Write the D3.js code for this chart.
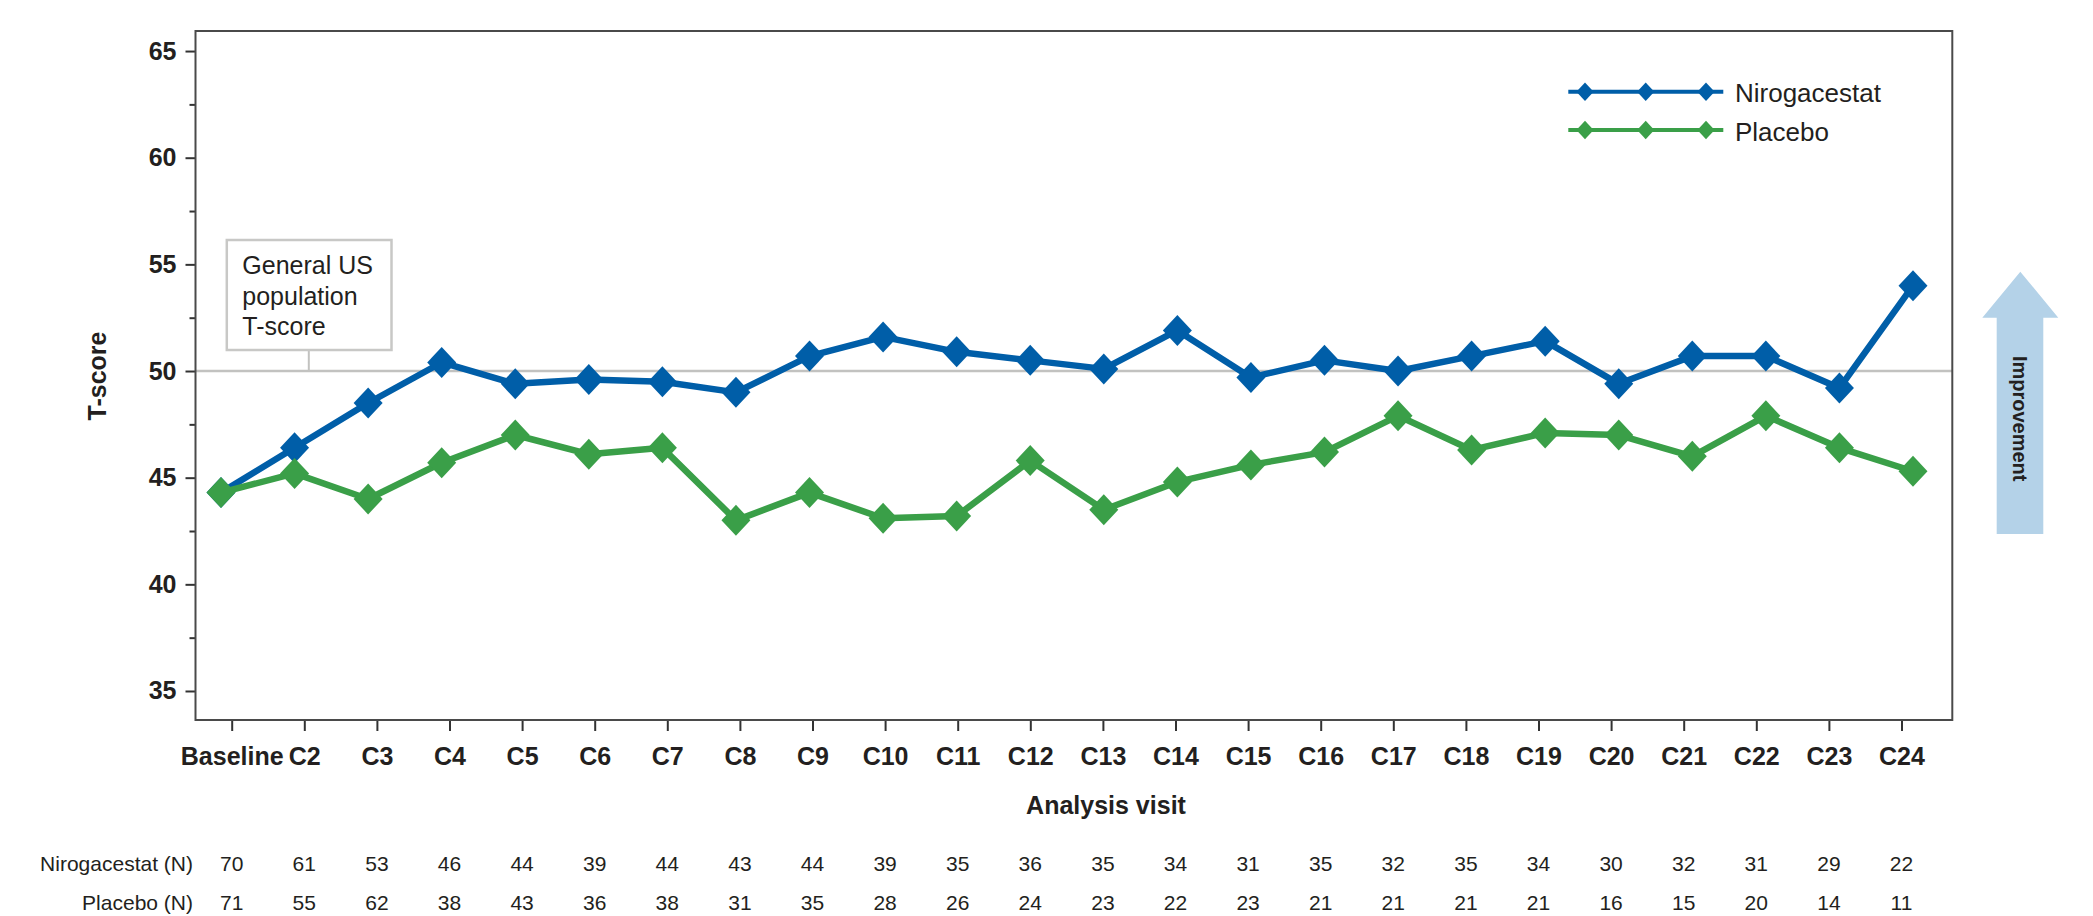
<!DOCTYPE html>
<html lang="en">
  <head>
    <meta charset="UTF-8" />
    <title>T-score by analysis visit</title>
    <script src="https://d3js.org/d3.v7.min.js"></script>
    <style>
      body {
        margin: 0;
        background: #fff;
      }
      svg text {
        font-family: "Liberation Sans", Arial, Helvetica, sans-serif;
        fill: #231f20;
      }
    </style>
  </head>
  <body>
    <div id="chart"></div>
    <script>
      // data
      const visits = ["Baseline", "C2", "C3", "C4", "C5", "C6", "C7", "C8", "C9", "C10", "C11", "C12",
        "C13", "C14", "C15", "C16", "C17", "C18", "C19", "C20", "C21", "C22", "C23", "C24"];
      const nirogacestat = [44.3, 46.4, 48.5, 50.4, 49.4, 49.6, 49.5, 49.0, 50.7, 51.6, 50.9, 50.5,
        50.1, 51.9, 49.7, 50.5, 50.0, 50.7, 51.4, 49.4, 50.7, 50.7, 49.2, 54.0];
      const placebo = [44.3, 45.2, 44.0, 45.7, 47.0, 46.1, 46.4, 43.0, 44.3, 43.1, 43.2, 45.8,
        43.5, 44.8, 45.6, 46.2, 47.9, 46.3, 47.1, 47.0, 46.0, 47.9, 46.4, 45.3];
      const nNirogacestat = [70, 61, 53, 46, 44, 39, 44, 43, 44, 39, 35, 36, 35, 34, 31, 35, 32, 35, 34, 30, 32, 31, 29, 22];
      const nPlacebo = [71, 55, 62, 38, 43, 36, 38, 31, 35, 28, 26, 24, 23, 22, 23, 21, 21, 21, 21, 16, 15, 20, 14, 11];
      const yTicks = [35, 40, 45, 50, 55, 60, 65];
      const yMinorTicks = [37.5, 42.5, 47.5, 52.5, 57.5, 62.5];
      const referenceScore = 50;

      const series = [
        { name: "Nirogacestat", values: nirogacestat, color: "#005ea8" },
        { name: "Placebo", values: placebo, color: "#3a9f48" },
      ];
      const nRows = [
        { label: "Nirogacestat (N)", values: nNirogacestat },
        { label: "Placebo (N)", values: nPlacebo },
      ];

      const W = 2093, H = 916;
      const margin = { top: 31, left: 195.5, right: 2093 - 1952.3, bottom: 916 - 720 };
      const width = W - margin.left - margin.right,
        height = H - margin.top - margin.bottom;

      const svg = d3.select("#chart").append("svg").attr("width", W).attr("height", H);
      const g = svg.append("g").attr("transform", `translate(${margin.left},${margin.top})`);

      // the ticks and the plotted points do not sit on the same grid in the original
      const x = d3.scalePoint().domain(visits).range([36.2, 1706]);
      const xPts = d3.scalePoint().domain(visits).range([25.5, 1717.5]);
      const y = d3.scaleLinear().domain([33.64, 65.94]).range([height, 0]);

      // diamond marker, a bit taller than wide
      const diamondPath = (hw, hh) => `M0,${-hh}L${hw},0L0,${hh}L${-hw},0Z`;

      // reference line for general US population
      g.append("line")
        .attr("x1", 0).attr("x2", width)
        .attr("y1", y(referenceScore)).attr("y2", y(referenceScore))
        .attr("stroke", "#c2c2c0").attr("stroke-width", 2.5);

      // callout box
      const boxX = 226.8 - margin.left, boxY = 240 - margin.top;
      g.append("line")
        .attr("x1", boxX + 82).attr("x2", boxX + 82)
        .attr("y1", boxY + 110).attr("y2", y(referenceScore))
        .attr("stroke", "#c2c2c0").attr("stroke-width", 2);
      g.append("rect")
        .attr("x", boxX).attr("y", boxY)
        .attr("width", 164.7).attr("height", 110)
        .attr("fill", "#fff").attr("stroke", "#c8c8c6").attr("stroke-width", 2.5);
      const boxText = g.append("text").attr("font-size", 25).attr("x", boxX + 15.5);
      ["General US", "population", "T-score"].forEach((t, i) => {
        boxText.append("tspan").attr("x", boxX + 15.5).attr("y", boxY + 34 + i * 30.5).text(t);
      });

      // axes
      const yAxis = g.append("g")
        .call(d3.axisLeft(y).tickValues(yTicks).tickSize(10).tickPadding(9));
      yAxis.selectAll("text").attr("font-size", 25).attr("font-weight", "bold");
      g.append("g")
        .call(d3.axisLeft(y).tickValues(yMinorTicks).tickSize(6).tickFormat(""))
        .select(".domain").remove();

      const xAxis = g.append("g")
        .attr("transform", `translate(0,${height})`)
        .call(d3.axisBottom(x).tickSize(11).tickPadding(16));
      xAxis.selectAll("text").attr("font-size", 25).attr("font-weight", "bold");

      svg.selectAll(".tick line").attr("stroke", "#333").attr("stroke-width", 2);
      svg.selectAll(".domain").remove();

      // frame
      g.append("rect")
        .attr("width", width).attr("height", height)
        .attr("fill", "none").attr("stroke", "#4a4a4a").attr("stroke-width", 2);

      // lines + diamonds
      const line = d3.line().x((d, i) => xPts(visits[i])).y((d) => y(d));
      series.forEach((s) => {
        g.append("path")
          .attr("d", line(s.values))
          .attr("fill", "none")
          .attr("stroke", s.color)
          .attr("stroke-width", 6.5)
          .attr("stroke-linejoin", "round");
        g.selectAll(null)
          .data(s.values)
          .join("path")
          .attr("d", diamondPath(14.5, 15.5))
          .attr("transform", (d, i) => `translate(${xPts(visits[i])},${y(d)})`)
          .attr("fill", s.color);
      });

      // legend
      const legend = svg.append("g").attr("transform", "translate(1568.3,91.7)");
      series.forEach((s, i) => {
        const row = legend.append("g").attr("transform", `translate(0,${i * 38.3})`);
        row.append("line").attr("x1", 0).attr("x2", 155)
          .attr("stroke", s.color).attr("stroke-width", 4);
        [16.7, 77.4, 137.7].forEach((mx) => {
          row.append("path").attr("d", diamondPath(8.6, 9.3))
            .attr("transform", `translate(${mx},0)`).attr("fill", s.color);
        });
        row.append("text").attr("x", 166.7).attr("y", 10.5)
          .attr("font-size", 26).text(s.name);
      });

      // axis titles
      svg.append("text")
        .attr("transform", "translate(106,376) rotate(-90)")
        .attr("text-anchor", "middle")
        .attr("font-size", 25).attr("font-weight", "bold")
        .text("T-score");
      svg.append("text")
        .attr("x", 1106).attr("y", 814)
        .attr("text-anchor", "middle")
        .attr("font-size", 25).attr("font-weight", "bold")
        .text("Analysis visit");

      // N at risk table
      nRows.forEach((r, k) => {
        const yy = 871 + k * 39;
        svg.append("text")
          .attr("x", 193).attr("y", yy)
          .attr("text-anchor", "end").attr("font-size", 21)
          .text(r.label);
        svg.selectAll(null)
          .data(r.values)
          .join("text")
          .attr("x", (d, i) => margin.left + x(visits[i]))
          .attr("y", yy)
          .attr("text-anchor", "middle").attr("font-size", 21)
          .text((d) => d);
      });

      // improvement arrow
      const arrow = svg.append("g").attr("transform", "translate(2020.3,271.7)");
      arrow.append("path")
        .attr("d", "M0,0 L38,46 L23,46 L23,262.3 L-23.6,262.3 L-23.6,46 L-38,46 Z")
        .attr("fill", "#b4d2e8");
      arrow.append("text")
        .attr("transform", "translate(-7,147) rotate(90)")
        .attr("text-anchor", "middle")
        .attr("font-size", 20).attr("font-weight", "bold")
        .text("Improvement");
    </script>
  </body>
</html>
